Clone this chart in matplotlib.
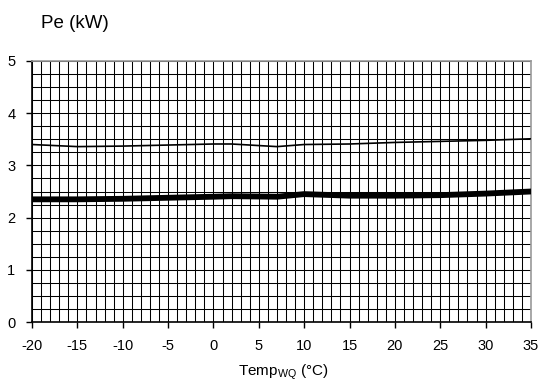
import numpy as np
import matplotlib.pyplot as plt

plt.rcParams['font.family'] = ['Liberation Sans', 'DejaVu Sans']
plt.rcParams['mathtext.fontset'] = 'custom'
plt.rcParams['mathtext.rm'] = 'Liberation Sans'
plt.rcParams['axes.unicode_minus'] = False

#data
temp = [-20, -15, -10, -5, 0, 2, 7, 10, 15, 20, 25, 30, 35]
pe_thin = [3.40, 3.36, 3.37, 3.39, 3.41, 3.41, 3.36, 3.40, 3.41, 3.44, 3.46, 3.48, 3.51]
pe_thick = [2.35, 2.35, 2.36, 2.38, 2.40, 2.41, 2.40, 2.45, 2.42, 2.42, 2.43, 2.46, 2.50]

xticks = np.arange(-20, 36, 5)
yticks = np.arange(0, 6, 1)

fig = plt.figure(figsize=(5.41, 3.85), dpi=100)
ax = fig.add_axes([32/541, 63/385, 499/541, 261/385])

#grid
ax.set_xticks(np.arange(-20, 36, 1), minor=True)
ax.set_yticks(np.arange(0, 5.01, 0.25), minor=True)
ax.grid(True, which='both', color='black', linewidth=0.75)
ax.tick_params(which='minor', length=0)

ax.plot(temp, pe_thin, color='black', linewidth=1.2, zorder=3)
ax.plot(temp, pe_thick, color='black', linewidth=4.2, zorder=3)

ax.set_xlim(-20, 35)
ax.set_ylim(0, 5)
ax.set_xticks(xticks)
ax.set_yticks(yticks)
ax.tick_params(which='major', direction='out', length=4, width=1, labelsize=10.5, pad=8)

for s in ['left', 'bottom']:
    ax.spines[s].set_color('black')
    ax.spines[s].set_linewidth(1.2)
for s in ['top', 'right']:
    ax.spines[s].set_color('#999999')
    ax.spines[s].set_linewidth(1.2)

fig.text(41/541, 1 - 24/385, 'Pe (kW)', fontsize=13.5, va='center', ha='left')
fig.text(283/541, 1 - 372/385, r'Temp$_{\mathrm{WQ}}$ (°C)', fontsize=11, va='center', ha='center')

plt.savefig('out.png', dpi=100)
